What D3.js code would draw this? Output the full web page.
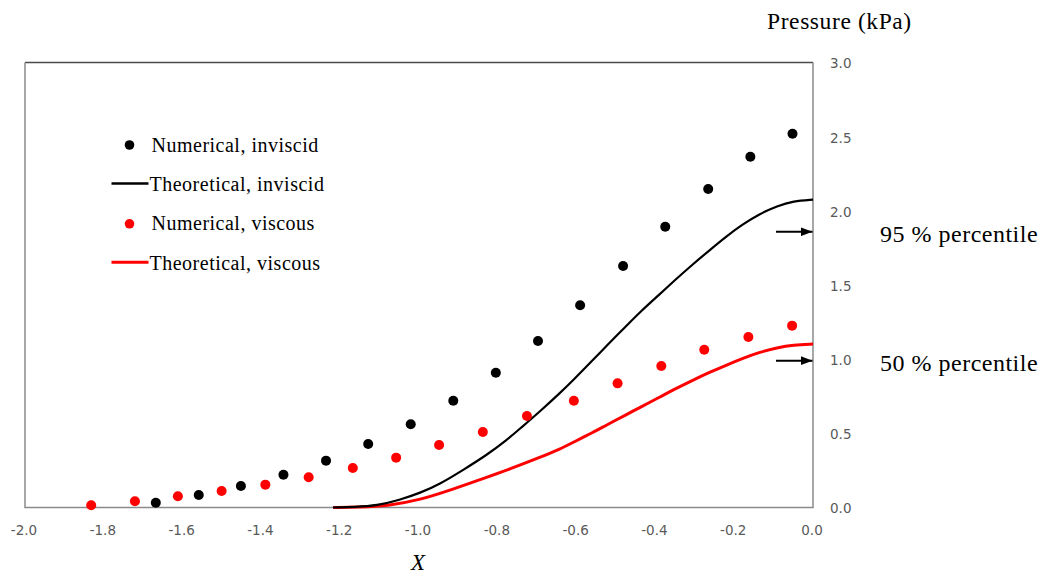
<!DOCTYPE html>
<html>
<head>
<meta charset="utf-8">
<script src="https://cdn.jsdelivr.net/npm/d3@7"></script>
<style>
  html, body { margin: 0; padding: 0; background: #fff; }
  svg { display: block; }
  .tick text { font-family: "DejaVu Sans", "Noto Sans", sans-serif; font-size: 13.5px; fill: #595959; }
  .serif { font-family: "Liberation Serif", "Times New Roman", serif; fill: #000; }
</style>
</head>
<body>
<svg id="chart" width="1043" height="574"></svg>
<script>
// Axis ticks
const xTicks = [-2.0, -1.8, -1.6, -1.4, -1.2, -1.0, -0.8, -0.6, -0.4, -0.2, 0.0];
const yTicks = [0.0, 0.5, 1.0, 1.5, 2.0, 2.5, 3.0];

// Numerical results, inviscid (black dots)
const numInviscidX = [-1.668, -1.559, -1.452, -1.344, -1.236, -1.129, -1.021, -0.913,
                      -0.805, -0.698, -0.591, -0.482, -0.375, -0.266, -0.159, -0.052];
const numInviscidY = [0.032, 0.084, 0.145, 0.221, 0.316, 0.428, 0.561, 0.720,
                      0.909, 1.123, 1.363, 1.628, 1.893, 2.147, 2.365, 2.520];

// Numerical results, viscous (red dots)
const numViscousX = [-1.832, -1.721, -1.612, -1.501, -1.390, -1.280, -1.168, -1.058, -0.949,
                     -0.838, -0.726, -0.607, -0.496, -0.385, -0.276, -0.164, -0.053];
const numViscousY = [0.015, 0.042, 0.076, 0.111, 0.154, 0.204, 0.266, 0.336, 0.421,
                     0.509, 0.617, 0.720, 0.837, 0.954, 1.064, 1.150, 1.226];

// Theoretical curve, inviscid (black line)
const theoInviscidX = [-1.218, -1.162, -1.107, -1.049, -0.997, -0.947, -0.888, -0.828, -0.777,
                       -0.744, -0.693, -0.642, -0.608, -0.558, -0.524, -0.473, -0.439, -0.388,
                       -0.355, -0.304, -0.261, -0.219, -0.178, -0.135, -0.091, -0.050, 0.0];
const theoInviscidY = [0.000, 0.004, 0.013, 0.051, 0.098, 0.158, 0.253, 0.354, 0.455,
                       0.531, 0.648, 0.772, 0.860, 0.996, 1.090, 1.226, 1.318, 1.440,
                       1.522, 1.642, 1.738, 1.830, 1.910, 1.980, 2.033, 2.066, 2.076];

// Theoretical curve, viscous (red line)
const theoViscousX = [-1.218, -1.150, -1.082, -0.997, -0.912, -0.828, -0.769, -0.693, -0.642,
                      -0.608, -0.558, -0.524, -0.473, -0.439, -0.388, -0.355, -0.304, -0.261,
                      -0.219, -0.178, -0.135, -0.091, -0.050, 0.0];
const theoViscousY = [0.000, 0.003, 0.010, 0.051, 0.125, 0.204, 0.260, 0.338, 0.394,
                      0.440, 0.507, 0.556, 0.627, 0.675, 0.745, 0.793, 0.860, 0.913,
                      0.961, 1.006, 1.047, 1.078, 1.096, 1.102];

// Percentile markers on the pressure axis
const percentileLabels = ["95 % percentile", "50 % percentile"];
const percentileValues = [1.859, 0.990];

const svg = d3.select("#chart");
const x = d3.scaleLinear().domain([-2, 0]).range([25, 813]);
const y = d3.scaleLinear().domain([0, 3]).range([507.5, 62.5]);

const zip = (xs, ys) => xs.map((v, i) => [v, ys[i]]);
const fmt = d => d.toFixed(1);

// Plot frame
svg.append("line").attr("x1", x(-2)).attr("x2", x(0)).attr("y1", y(3)).attr("y2", y(3))
  .attr("stroke", "#4a4a4a").attr("stroke-width", 1.5);
svg.append("path")
  .attr("d", `M${x(-2)},${y(3)}V${y(0)}H${x(0)}V${y(3)}`)
  .attr("fill", "none").attr("stroke", "#8a8a8a").attr("stroke-width", 1.5);

// Axes
const xAxis = svg.append("g").attr("transform", `translate(0,${y(0)})`)
  .call(d3.axisBottom(x).tickValues(xTicks).tickSize(0).tickPadding(17.5).tickFormat(fmt));
xAxis.select(".domain").remove();
xAxis.selectAll(".tick text").attr("dx", -1.5);

const yAxis = svg.append("g").attr("transform", `translate(${x(0)},0)`)
  .call(d3.axisRight(y).tickValues(yTicks).tickSize(0).tickPadding(17).tickFormat(fmt));
yAxis.select(".domain").remove();
yAxis.selectAll(".tick text").attr("dy", "0.4em");

// Axis titles
svg.append("text").attr("class", "serif")
  .attr("x", 767).attr("y", 28.5)
  .style("font-size", "23.5px").style("letter-spacing", "0.6px")
  .text("Pressure (kPa)");
svg.append("text").attr("class", "serif")
  .attr("x", 418).attr("y", 570).attr("text-anchor", "middle")
  .style("font-size", "23px").style("font-style", "italic")
  .text("X");

// Theoretical curves
const line = d3.line().x(d => x(d[0])).y(d => y(d[1])).curve(d3.curveBasis);
svg.append("path").datum(zip(theoViscousX, theoViscousY))
  .attr("d", line).attr("fill", "none").attr("stroke", "#ff0000").attr("stroke-width", 3);
svg.append("path").datum(zip(theoInviscidX, theoInviscidY))
  .attr("d", line).attr("fill", "none").attr("stroke", "#000").attr("stroke-width", 2.2);

// Numerical dots
svg.append("g").selectAll("circle").data(zip(numViscousX, numViscousY)).join("circle")
  .attr("cx", d => x(d[0])).attr("cy", d => y(d[1])).attr("r", 5).attr("fill", "#ff0000");
svg.append("g").selectAll("circle").data(zip(numInviscidX, numInviscidY)).join("circle")
  .attr("cx", d => x(d[0])).attr("cy", d => y(d[1])).attr("r", 5).attr("fill", "#000");

// Percentile arrows and labels
const defs = svg.append("defs");
defs.append("marker").attr("id", "arrowHead")
  .attr("viewBox", "0 0 12 9").attr("refX", 12).attr("refY", 4.5)
  .attr("markerWidth", 12).attr("markerHeight", 9).attr("markerUnits", "userSpaceOnUse")
  .attr("orient", "auto")
  .append("path").attr("d", "M0,0L12,4.5L0,9Z").attr("fill", "#000");

percentileValues.forEach((v, i) => {
  svg.append("line")
    .attr("x1", x(-0.094)).attr("x2", x(0) - 0.5)
    .attr("y1", y(v)).attr("y2", y(v))
    .attr("stroke", "#000").attr("stroke-width", 2)
    .attr("marker-end", "url(#arrowHead)");
  svg.append("text").attr("class", "serif")
    .attr("x", 880).attr("y", y(v) + 10)
    .style("font-size", "24px").style("letter-spacing", "0.5px")
    .text(percentileLabels[i]);
});

// Legend
const legendItems = [
  { label: "Numerical, inviscid", color: "#000", type: "dot" },
  { label: "Theoretical, inviscid", color: "#000", type: "line" },
  { label: "Numerical, viscous", color: "#ff0000", type: "dot" },
  { label: "Theoretical, viscous", color: "#ff0000", type: "line" }
];
const legend = svg.append("g").attr("transform", "translate(0,145)");
legendItems.forEach((item, i) => {
  const g = legend.append("g").attr("transform", `translate(0,${i * 39.4})`);
  if (item.type === "dot") {
    g.append("circle").attr("cx", 129.5).attr("cy", 0).attr("r", 4.8).attr("fill", item.color);
  } else {
    g.append("line").attr("x1", 111.5).attr("x2", 148.5).attr("y1", -1).attr("y2", -1)
      .attr("stroke", item.color).attr("stroke-width", item.color === "#000" ? 2.5 : 3);
  }
  g.append("text").attr("class", "serif")
    .attr("x", item.type === "dot" ? 151.5 : 149.5).attr("y", 6.5)
    .style("font-size", "20px").style("letter-spacing", "0.5px")
    .text(item.label);
});
</script>
</body>
</html>
